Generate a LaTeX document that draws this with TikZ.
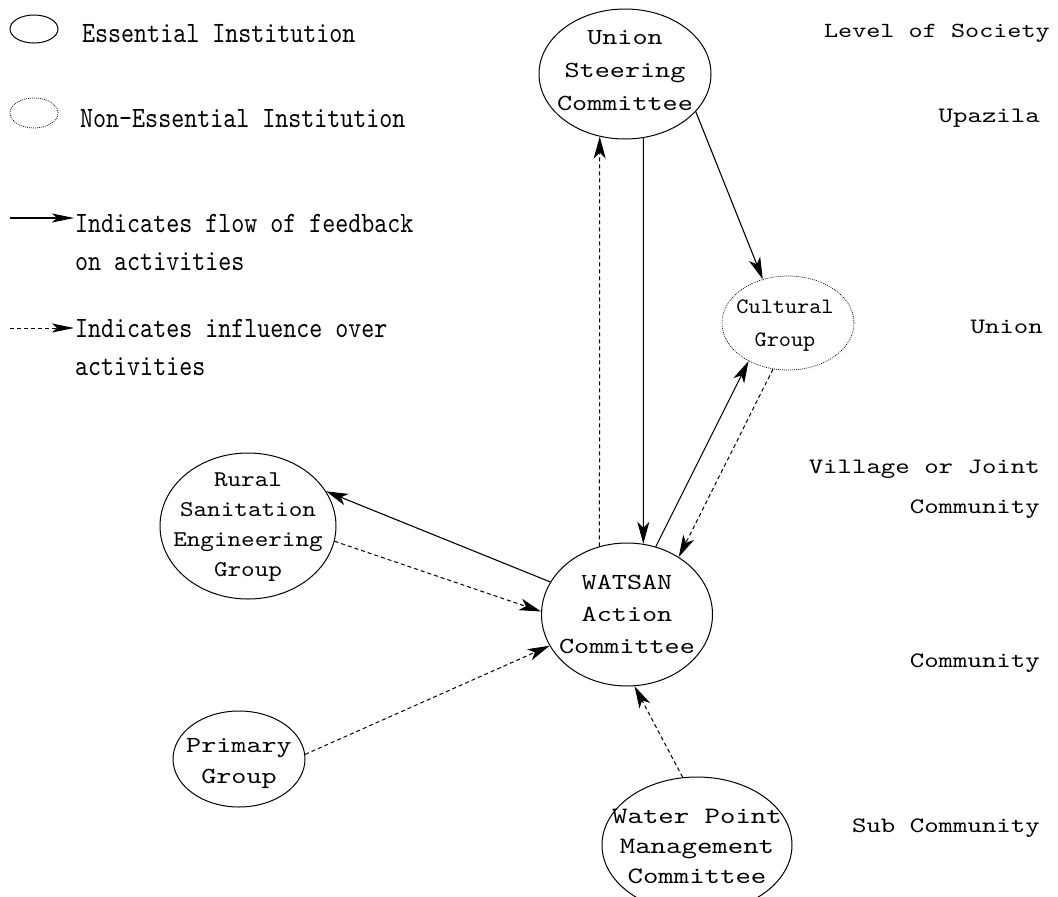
\documentclass[tikz,border=0pt]{standalone}
\usepackage{fontspec}
% Latin Modern Mono, widened or narrowed to the typewriter proportions used here
\newfontfamily\ttA[FakeStretch=1.25]{lmmono10-regular.otf}
\newfontfamily\ttC[FakeStretch=1.05]{lmmono10-regular.otf}
\newfontfamily\ttR[FakeStretch=1.15]{lmmono10-regular.otf}
\newfontfamily\ttL[FakeStretch=0.84]{lmmono10-regular.otf}
\usetikzlibrary{shapes.geometric,arrows.meta}

\tikzset{
  inst/.style={ellipse, draw, line width=1pt, inner sep=0pt},
  noness/.style={ellipse, draw, line width=0.7pt, dash pattern=on 0.9pt off 1.1pt, inner sep=0pt},
  lbl/.style={align=center, inner sep=0pt, font=\ttA\fontsize{23}{33}\selectfont},
  leg/.style={inner sep=0pt, font=\ttL\fontsize{29.5}{38}\selectfont},
  lvl/.style={inner sep=0pt, anchor=base east, font=\ttA\fontsize{22}{30}\selectfont},
  tip/.style={-{Stealth[length=22pt,width=12pt,inset=6pt]}},
  legtip/.style={-{Stealth[length=22pt,width=9pt,inset=5pt]}},
  feed/.style={line width=1.1pt, tip},
  infl/.style={line width=1pt, dash pattern=on 4pt off 3pt, tip},
}

\begin{document}
\begin{tikzpicture}[x=1pt, y=-1pt]
\useasboundingbox (0,0) rectangle (1058,897);

% ---- legend ----
\node[inst, minimum width=48, minimum height=28] (ess) at (34,29) {};
\node[leg, anchor=base west] (ess-t) at (82,42) {Essential Institution};
\node[noness, minimum width=48, minimum height=30] (non) at (34,113) {};
\node[leg, anchor=base west] (non-t) at (80,127) {Non-Essential Institution};

\coordinate (fb-s) at (10,218);
\coordinate (fb-e) at (74,218);
\draw[line width=1.1pt, legtip] (fb-s) -- (fb-e);
\node[leg, anchor=base west] (fb-t1) at (75,232) {Indicates flow of feedback};
\node[leg, anchor=base west] (fb-t2) at (75,270) {on activities};

\coordinate (in-s) at (10,328);
\coordinate (in-e) at (74,328);
\draw[line width=1pt, dash pattern=on 4pt off 3pt, legtip] (in-s) -- (in-e);
\node[leg, anchor=base west] (in-t1) at (75,337) {Indicates influence over};
\node[leg, anchor=base west] (in-t2) at (75,375) {activities};

% ---- levels of society ----
\node[lvl, font=\ttA\fontsize{21.5}{30}\selectfont] (lv0) at (1050,37) {Level of Society};
\node[lvl] (lv1) at (1040,122) {Upazila};
\node[lvl] (lv2) at (1043,333) {Union};
\node[lvl] (lv3a) at (1040,473) {Village or Joint};
\node[lvl] (lv3b) at (1040,513) {Community};
\node[lvl] (lv4) at (1040,667) {Community};
\node[lvl] (lv5) at (1040,832) {Sub Community};

% ---- institutions ----
\node[inst, minimum width=172, minimum height=130] (usc) at (625,74) {};
\node[lbl] (usc-t) at (625,71) {Union\\Steering\\Committee};

\node[noness, minimum width=132, minimum height=94] (cg) at (788,323) {};
\node[lbl, font=\ttC\fontsize{22}{33}\selectfont] (cg-t) at (785,326) {Cultural\\Group};

\node[inst, minimum width=176, minimum height=146] (rse) at (248,526) {};
\node[lbl, font=\ttR\fontsize{22.5}{30}\selectfont] (rse-t) at (248,527) {Rural\\Sanitation\\Engineering\\Group};

\node[inst, minimum width=171, minimum height=143] (wac) at (627,614.5) {};
\node[lbl, font=\ttA\fontsize{23}{32}\selectfont] (wac-t) at (627,614) {WATSAN\\Action\\Committee};

\node[inst, minimum width=132, minimum height=96] (pg) at (239,759) {};
\node[lbl, font=\ttA\fontsize{23}{31}\selectfont] (pg-t) at (239,764) {Primary\\Group};

\node[inst, minimum width=190, minimum height=136] (wpm) at (697,845) {};
\node[lbl, font=\ttA\fontsize{23.5}{30}\selectfont] (wpm-t) at (697,846) {Water Point\\Management\\Committee};

% ---- connectors ----
\draw[infl] (wac.112) -- (usc.-112);
\draw[feed] (usc.-74) -- (wac.77);
\draw[feed] (usc.-28.5) -- (cg.120);
\draw[feed] (wac.67) -- (cg.-136);
\draw[infl] (cg.-108) -- (wac.48);
\draw[feed] (wac.157) -- (rse.24);
\draw[infl] (rse.-10) -- (wac.178);
\draw[infl] (pg.4) -- (wac.202);
\draw[infl] (wpm.102) -- (wac.-84);
\end{tikzpicture}
\end{document}
